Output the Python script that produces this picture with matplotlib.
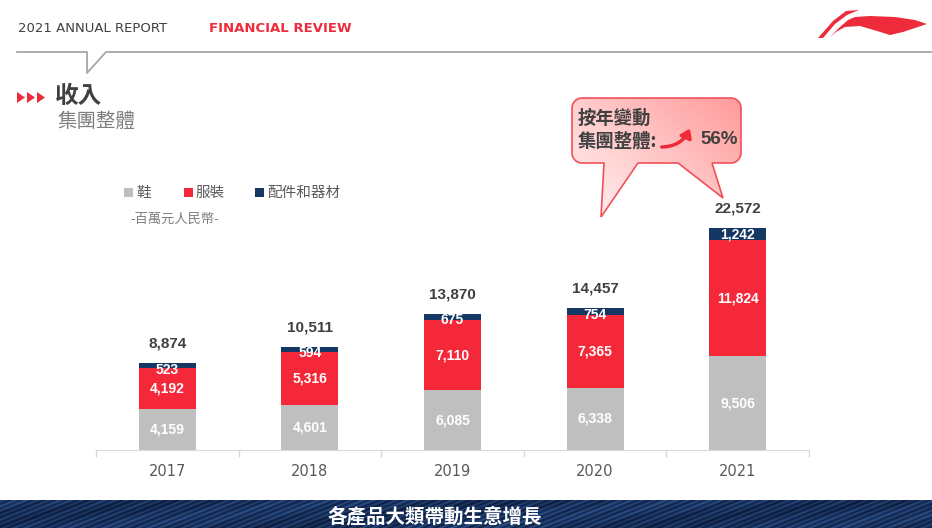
import numpy as np
import matplotlib
matplotlib.use("Agg")
import matplotlib.pyplot as plt
from matplotlib.patches import Polygon, PathPatch, FancyArrowPatch, Rectangle
from matplotlib.path import Path
from matplotlib.colors import LinearSegmentedColormap

plt.rcParams["font.family"] = ["Noto Sans CJK TC", "DejaVu Sans"]

# data (百萬元人民幣)
years = ["2017", "2018", "2019", "2020", "2021"]
footwear = [4159, 4601, 6085, 6338, 9506]
apparel = [4192, 5316, 7110, 7365, 11824]
accessories = [523, 594, 675, 754, 1242]
totals = [8874, 10511, 13870, 14457, 22572]
series_names = ["鞋", "服裝", "配件和器材"]
colors = ["#BFBFBF", "#F5283A", "#143763"]

W, H = 932, 528
fig = plt.figure(figsize=(W / 100, H / 100), dpi=100)

# overlay in pixel coords (y down) for the slide decorations
bg = fig.add_axes([0, 0, 1, 1])
bg.axis("off")

dark = "#404040"
red = "#EE2B3B"

# header
bg.text(18, 28, "2021 ANNUAL REPORT", fontsize=9.5, color=dark, va="center", family="DejaVu Sans")
bg.text(209, 28, "FINANCIAL REVIEW", fontsize=9.5, color=red, va="center",
        fontweight="bold", family="DejaVu Sans")
bg.plot([17, 87, 87, 106, 932], [52, 52, 73, 52, 52], color="#A6A6A6", lw=1.3)

# logo (rough swoosh)
bg.add_patch(Polygon([(818, 38), (823, 38), (835, 24), (847, 15), (859, 10), (846, 11), (833, 21)],
                     closed=True, color=red, lw=0))
bg.add_patch(Polygon([(829, 38), (836, 32), (845, 27), (860, 26), (877, 31), (890, 35), (903, 32),
                      (915, 28), (927, 24), (915, 20), (895, 17), (870, 16), (855, 17), (848, 20),
                      (840, 27)], closed=True, color=red, lw=0))

# title
for x0 in (17, 27, 37):
    bg.add_patch(Polygon([(x0, 92), (x0 + 8, 97.5), (x0, 103)], closed=True, color=red, lw=0))
bg.text(55, 96, "收入", fontsize=17, fontweight="bold", color=dark, va="center")
bg.text(57, 121, "集團整體", fontsize=14, color="#7F7F7F", va="center")

# legend
leg_x = [124, 184, 255]
for x0, name, c in zip(leg_x, series_names, colors):
    bg.add_patch(Rectangle((x0, 188), 9, 9, color=c, lw=0))
    bg.text(x0 + 12, 193, name, fontsize=10.5, color="#595959", va="center")
bg.text(130, 219, "-百萬元人民幣-", fontsize=9.5, color="#7F7F7F", va="center")

# callout bubble
x0, x1, y0, y1, r = 572, 741, 98, 163, 10
def arc(cx, cy, a0, a1):
    t = np.radians(np.linspace(a0, a1, 8))
    return list(zip(cx + r * np.cos(t), cy + r * np.sin(t)))
pts = [(x0 + r, y0), (x1 - r, y0)]
pts += arc(x1 - r, y0 + r, -90, 0)
pts += [(x1, y1 - r)]
pts += arc(x1 - r, y1 - r, 0, 90)
pts += [(712, y1), (723, 198), (678, y1), (638, y1), (601, 217), (604, y1), (x0 + r, y1)]
pts += arc(x0 + r, y1 - r, 90, 180)
pts += [(x0, y0 + r)]
pts += arc(x0 + r, y0 + r, 180, 270)
bubble = Path(pts + [pts[0]], closed=True)
bpatch = PathPatch(bubble, facecolor="none", edgecolor="#F0505A", lw=1.2, zorder=3)
grad_cmap = LinearSegmentedColormap.from_list("pink", ["#FFF4F4", "#FFC8C8", "#FF9A9A"])
gx, gy = np.meshgrid(np.linspace(0, 1, 100), np.linspace(0, 1, 100))
grad = np.clip(0.55 * gx + 0.45 * (1 - gy), 0, 1)
im = bg.imshow(grad, cmap=grad_cmap, extent=[x0, x1, 217, y0], aspect="auto", zorder=2)
bg.add_patch(bpatch)
im.set_clip_path(bpatch)
bg.text(578, 118, "按年變動", fontsize=13.2, fontweight="bold", color=dark, va="center", zorder=4)
bg.text(578, 141, "集團整體:", fontsize=13.2, fontweight="bold", color=dark, va="center", zorder=4)
bg.text(738, 140, "56%", fontsize=13.5, fontweight="bold", color=dark, va="center", ha="right",
        family="Liberation Sans", zorder=4)
bg.add_patch(FancyArrowPatch((659, 147), (691, 126), connectionstyle="arc3,rad=0.35",
                             arrowstyle="-|>,head_length=5,head_width=3.5", color=red,
                             lw=2.5, zorder=4))

# bottom banner (denim-like texture)
bx, by = np.meshgrid(np.arange(W), np.arange(28))
th = np.radians(22)
f = bx * np.sin(th) + by * np.cos(th)
tex = 0.45 + 0.22 * np.sin(2 * np.pi * f / 4.2) + 0.18 * np.sin(2 * np.pi * (bx * 0.013 + by * 0.05)) \
    * np.sin(2 * np.pi * f / 37.0)
denim = LinearSegmentedColormap.from_list("denim", ["#0B1A34", "#17305C", "#2D508A"])
bg.imshow(np.clip(tex, 0, 1), cmap=denim, extent=[0, W, 528, 500], aspect="auto", zorder=1)
bg.text(435, 516, "各產品大類帶動生意增長", fontsize=14, fontweight="bold", color="white",
        ha="center", va="center", zorder=2)
bg.set_xlim(0, W)
bg.set_ylim(H, 0)

# main chart
ax = fig.add_axes([96 / W, 1 - 450 / H, (809 - 96) / W, 245.9 / H])
ax.patch.set_alpha(0)
x = np.arange(len(years))
bw = 0.4
bottoms = np.zeros(len(years))
for k, (vals, c) in enumerate(zip([footwear, apparel, accessories], colors)):
    vals = np.array(vals)
    ax.bar(x, vals, bw, bottom=bottoms, color=c, lw=0)
    for xi, v, b in zip(x, vals, bottoms):
        ypos = b + v - 700 if k == 2 else b + v / 2
        ax.text(xi, ypos, f"{v:,}", ha="center", va="center", color="white",
                fontsize=10, fontweight="bold", family="Liberation Sans")
    bottoms += vals
for xi, t in zip(x, totals):
    ax.text(xi, t + 1950, f"{t:,}", ha="center", va="center", color=dark,
            fontsize=11, fontweight="bold", family="Liberation Sans")

ax.set_xlim(-0.5, 4.5)
ax.set_ylim(0, 25000)
ax.set_yticks([])
ax.set_xticks(x)
ax.set_xticklabels(years, fontsize=10.5, color="#595959", family="DejaVu Sans")
ax.tick_params(axis="x", which="major", length=0, pad=10)
ax.set_xticks(np.arange(-0.5, 5, 1), minor=True)
ax.tick_params(axis="x", which="minor", length=5, color="#D9D9D9", width=1)
for s in ("top", "right", "left"):
    ax.spines[s].set_visible(False)
ax.spines["bottom"].set_color("#D9D9D9")

fig.savefig("out.png", dpi=100)
